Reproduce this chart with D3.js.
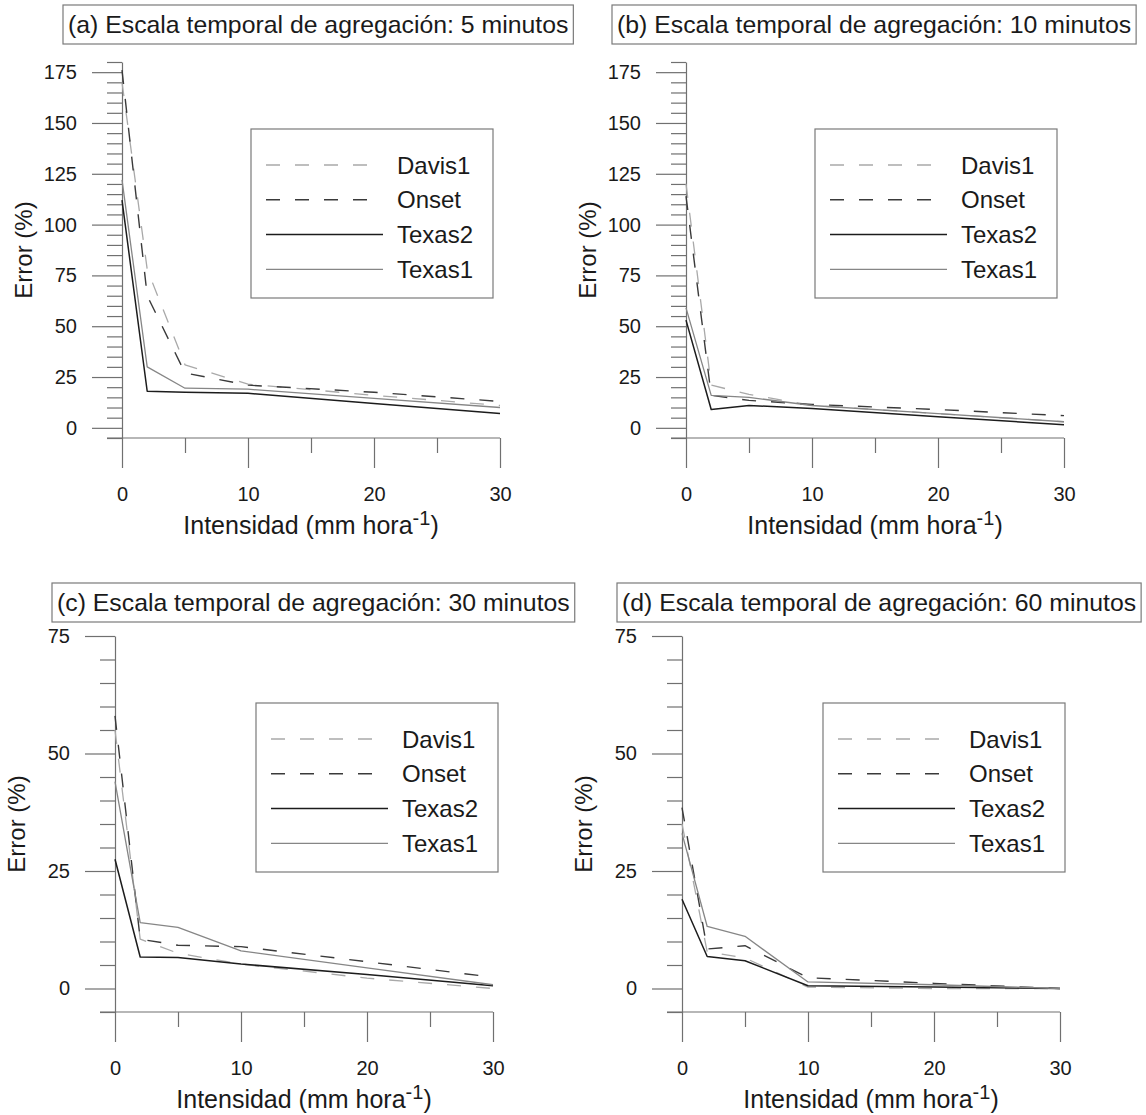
<!DOCTYPE html>
<html>
<head>
<meta charset="utf-8">
<script src="https://cdn.jsdelivr.net/npm/d3@7"></script>
<style>
	body { margin: 0; background: #fff; }
	svg { font-family: "Liberation Sans", Arial, sans-serif; }
</style>
</head>
<body>
<script>

//Datos

var intensidad = [0, 2, 5, 10, 20, 30];
var estaciones = ["Davis1", "Onset", "Texas2", "Texas1"];
var titulos = [
	"(a) Escala temporal de agregación: 5 minutos",
	"(b) Escala temporal de agregación: 10 minutos",
	"(c) Escala temporal de agregación: 30 minutos",
	"(d) Escala temporal de agregación: 60 minutos"
];
var maxError = [180, 180, 75, 75];

// 5 minutos
var davis1_5 = [170, 78, 31, 21.5, 16, 11];
var onset_5 = [176, 65, 27, 21, 17.5, 13];
var texas2_5 = [112, 18, 17.5, 17, 12, 7];
var texas1_5 = [122, 30, 19.5, 19, 14.5, 10];

// 10 minutos
var davis1_10 = [120, 21, 16.5, 11, 7, 3];
var onset_10 = [114, 16, 13.5, 11.5, 9, 6];
var texas2_10 = [53, 9, 11, 9.5, 5.5, 1.5];
var texas1_10 = [59, 16, 15, 11, 7, 3];

// 30 minutos
var davis1_30 = [55, 10.5, 7.5, 5.2, 2.2, 0];
var onset_30 = [58, 10.5, 9.2, 8.9, 5.7, 2.4];
var texas2_30 = [27.5, 6.7, 6.6, 5.2, 3, 0.6];
var texas1_30 = [44, 14, 13, 8, 4.4, 0.8];

// 60 minutos
var davis1_60 = [35, 7.8, 6.5, 0.3, 0, 0];
var onset_60 = [38.5, 8.4, 9.1, 2.3, 1.1, 0];
var texas2_60 = [19, 6.8, 5.9, 0.6, 0.3, 0];
var texas1_60 = [33, 13.2, 11.1, 1.4, 0.8, 0];

var paneles = [
	{ titulo: titulos[0], yMax: maxError[0], series: [davis1_5, onset_5, texas2_5, texas1_5] },
	{ titulo: titulos[1], yMax: maxError[1], series: [davis1_10, onset_10, texas2_10, texas1_10] },
	{ titulo: titulos[2], yMax: maxError[2], series: [davis1_30, onset_30, texas2_30, texas1_30] },
	{ titulo: titulos[3], yMax: maxError[3], series: [davis1_60, onset_60, texas2_60, texas1_60] }
];

//Disposicion

var w = 1146;
var h = 1115;
var anchoPlot = 378;
var altoPlot = 376;
var origenes = [[122, 62], [686, 62], [115, 636], [682, 636]];
var cajaTitulo = [[63, 5], [612, 5], [52, 583], [617, 583]];
var decalageLeyenda = [129, 129, 141, 141];

var colores = ["#a9a9a9", "#3a3a3a", "#1c1c1c", "#868686"];
var punteado = ["14,15", "14,15", null, null];
var grosor = [1.3, 1.4, 1.5, 1.3];
var colorEje = "#707070";

var svg = d3.select("body")
	.append("svg")
	.attr("width", w)
	.attr("height", h);

svg.append("rect")
	.attr("width", w)
	.attr("height", h)
	.style("fill", "#fff");

paneles.forEach(function(p, i) {

	var x0 = origenes[i][0];
	var y0 = origenes[i][1];

	var x = d3.scaleLinear()
		.domain([0, 30])
		.range([x0, x0 + anchoPlot]);

	var y = d3.scaleLinear()
		.domain([-5, p.yMax])
		.range([y0 + altoPlot, y0]);

	var g = svg.append("g");

	//Eje Y: ticks menores y mayores
	var menoresY = d3.range(-5, p.yMax + 0.1, 5).filter(function(v) { return v % 25 != 0; });
	var mayoresY = d3.range(0, p.yMax + 0.1, 25);

	var ejeYmenor = g.append("g")
		.attr("transform", "translate(" + x0 + ",0)")
		.call(d3.axisLeft(y).tickValues(menoresY).tickSize(15).tickSizeOuter(0).tickFormat(""));
	ejeYmenor.select(".domain").remove();

	var ejeY = g.append("g")
		.attr("transform", "translate(" + x0 + ",0)")
		.call(d3.axisLeft(y).tickValues(mayoresY).tickSize(30).tickPadding(15).tickSizeOuter(0))
		.attr("font-size", 20)
		.attr("font-family", null);

	//Eje X
	var ejeXmenor = g.append("g")
		.attr("transform", "translate(0," + y(-5) + ")")
		.call(d3.axisBottom(x).tickValues([5, 15, 25]).tickSize(15).tickSizeOuter(0).tickFormat(""));
	ejeXmenor.select(".domain").remove();

	var ejeX = g.append("g")
		.attr("transform", "translate(0," + y(-5) + ")")
		.call(d3.axisBottom(x).tickValues([0, 10, 20, 30]).tickSize(30).tickSizeOuter(0))
		.attr("font-size", 20)
		.attr("font-family", null);
	ejeX.select(".domain").remove();
	ejeX.selectAll("text")
		.attr("y", 63)
		.attr("dy", null);

	g.append("line")
		.attr("x1", x0 - 15)
		.attr("x2", x(30))
		.attr("y1", y(-5))
		.attr("y2", y(-5));

	g.selectAll("line, path")
		.style("stroke", colorEje)
		.style("stroke-width", 1.2);
	g.selectAll("text")
		.style("fill", "#1a1a1a");

	//Titulos de ejes
	svg.append("text")
		.attr("transform", "translate(" + (x0 - 90) + "," + (y0 + altoPlot / 2) + ") rotate(-90)")
		.attr("text-anchor", "middle")
		.style("font-size", "24px")
		.style("fill", "#1a1a1a")
		.text("Error (%)");

	var tituloX = svg.append("text")
		.attr("x", x0 + anchoPlot / 2)
		.attr("y", y0 + altoPlot + 96)
		.attr("text-anchor", "middle")
		.style("font-size", "25px")
		.style("fill", "#1a1a1a");
	tituloX.append("tspan").text("Intensidad (mm hora");
	tituloX.append("tspan").attr("dy", -9).style("font-size", "20px").text("-1");
	tituloX.append("tspan").attr("dy", 9).text(")");

	//Curvas
	var linea = d3.line()
		.x(function(d, k) { return x(intensidad[k]); })
		.y(function(d) { return y(d); });

	svg.selectAll(".serie" + i)
		.data(p.series)
		.enter()
		.append("path")
		.attr("class", "serie" + i)
		.attr("d", linea)
		.style("fill", "none")
		.style("stroke", function(d, k) { return colores[k]; })
		.style("stroke-width", function(d, k) { return grosor[k]; })
		.style("stroke-dasharray", function(d, k) { return punteado[k]; })
		.style("stroke-linejoin", "round");

	//Leyenda
	var leyenda = svg.append("g")
		.attr("transform", "translate(" + (x0 + decalageLeyenda[i]) + "," + (y0 + 67) + ")");

	leyenda.append("rect")
		.attr("width", 242)
		.attr("height", 169)
		.style("fill", "#fff")
		.style("stroke", "#7a7a7a")
		.style("stroke-width", 1.2);

	estaciones.forEach(function(nombre, k) {
		var fila = 36 + k * 34.8;
		leyenda.append("line")
			.attr("x1", 15)
			.attr("x2", punteado[k] ? 117 : 132)
			.attr("y1", fila)
			.attr("y2", fila)
			.style("stroke", colores[k])
			.style("stroke-width", grosor[k])
			.style("stroke-dasharray", punteado[k]);
		leyenda.append("text")
			.attr("x", 146)
			.attr("y", fila + 8.5)
			.style("font-size", "24px")
			.style("fill", "#1a1a1a")
			.text(nombre);
	});

	//Titulo del panel
	var caja = svg.append("g")
		.attr("transform", "translate(" + cajaTitulo[i][0] + "," + cajaTitulo[i][1] + ")");
	var rectCaja = caja.append("rect")
		.attr("height", 39)
		.style("fill", "#fff")
		.style("stroke", "#7a7a7a")
		.style("stroke-width", 1.2);
	var textoCaja = caja.append("text")
		.attr("x", 5)
		.attr("y", 28)
		.style("font-size", "24.8px")
		.style("fill", "#1a1a1a")
		.text(p.titulo);
	rectCaja.attr("width", textoCaja.node().getComputedTextLength() + 10);
});

</script>
</body>
</html>
